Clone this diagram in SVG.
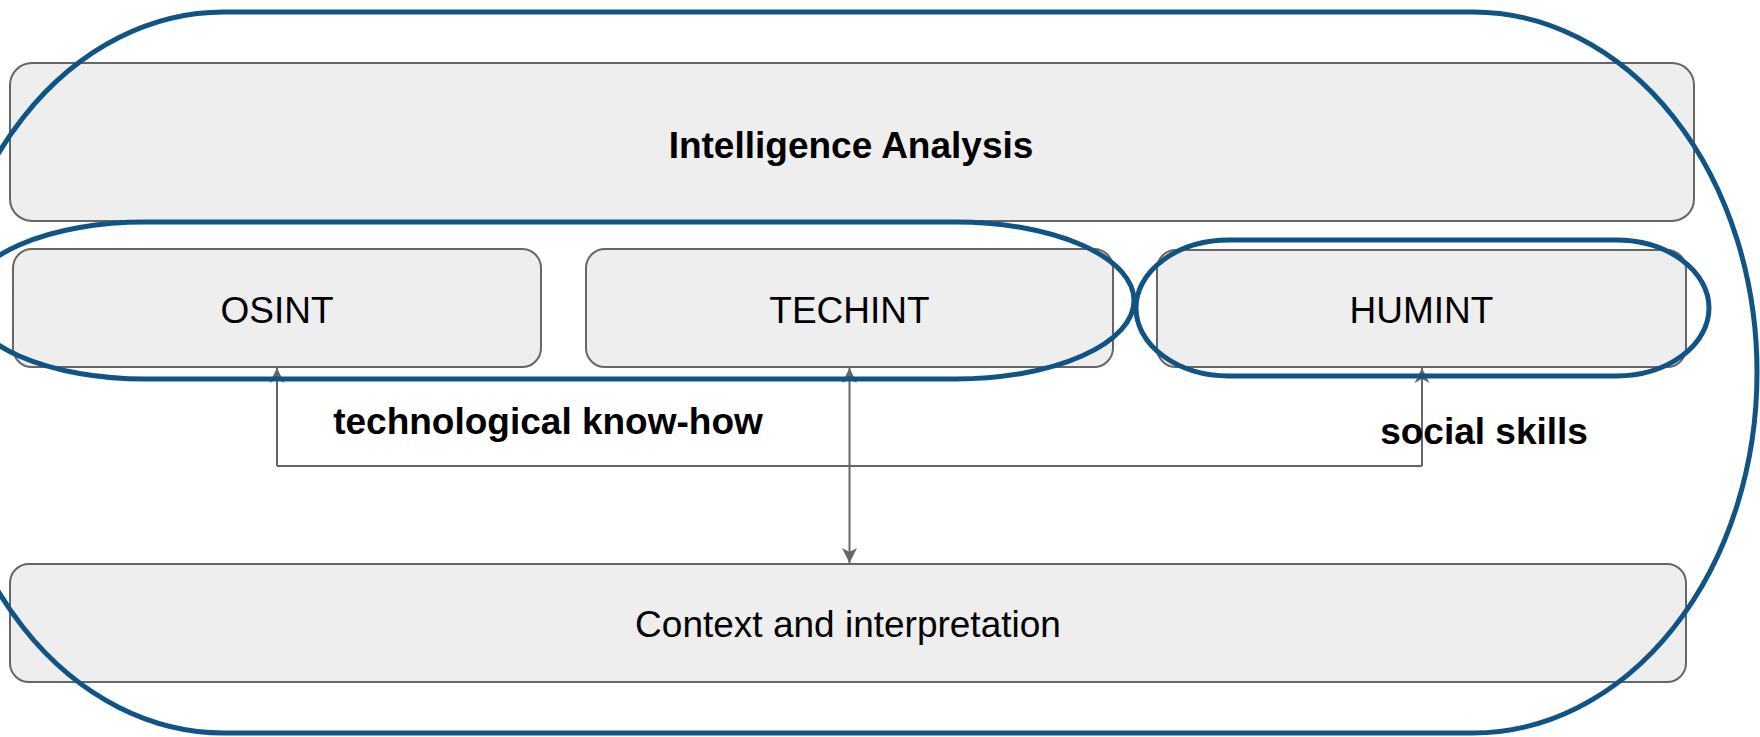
<svg xmlns="http://www.w3.org/2000/svg" width="1760" height="737" viewBox="0 0 1760 737">
  <style>
    .box { fill: #eeeeee; stroke: #666666; stroke-width: 2; }
    .label { font-family: "Liberation Sans", Arial, sans-serif; font-size: 37px; fill: #000000; text-anchor: middle; }
    .bold { font-weight: bold; }
    .edge { fill: none; stroke: #666666; stroke-width: 2; }
    .ring { fill: none; stroke: #0f5485; stroke-width: 5; }
  </style>
  <defs>
    <marker id="arrow" viewBox="0 0 16 16" refX="15" refY="8" markerWidth="16" markerHeight="16" markerUnits="userSpaceOnUse" orient="auto">
      <path d="M15,8 L0,0.5 L4,8 L0,15.5 Z" fill="#666666"/>
    </marker>
  </defs>

  <rect width="1760" height="737" fill="#ffffff"/>

  <g id="intelligence-analysis">
    <rect class="box" x="10" y="63" width="1684" height="158" rx="22" ry="22"/>
    <text class="label bold" x="851" y="158">Intelligence Analysis</text>
  </g>

  <g id="osint">
    <rect class="box" x="13" y="249" width="528" height="118" rx="19" ry="19"/>
    <text class="label" x="277" y="323">OSINT</text>
  </g>

  <g id="techint">
    <rect class="box" x="586" y="249" width="527" height="118" rx="19" ry="19"/>
    <text class="label" x="849.5" y="323">TECHINT</text>
  </g>

  <g id="humint">
    <rect class="box" x="1157" y="250" width="529" height="117" rx="19" ry="19"/>
    <text class="label" x="1421.5" y="323">HUMINT</text>
  </g>

  <g id="context">
    <rect class="box" x="10" y="564" width="1676" height="118" rx="19" ry="19"/>
    <text class="label" x="848" y="637">Context and interpretation</text>
  </g>

  <g id="connectors">
    <path class="edge" d="M277,466 H1422"/>
    <path class="edge" d="M277,466 V368" marker-end="url(#arrow)"/>
    <path class="edge" d="M849.5,466 V368" marker-end="url(#arrow)"/>
    <path class="edge" d="M1422,466 V368" marker-end="url(#arrow)"/>
    <path class="edge" d="M849.5,466 V563" marker-end="url(#arrow)"/>
    <text class="label bold" x="548" y="434">technological know-how</text>
    <text class="label bold" x="1484" y="444">social skills</text>
  </g>

  <g id="groupings">
    <rect class="ring" x="-60" y="12" width="1817" height="721" rx="284" ry="360"/>
    <rect class="ring" x="-33" y="222" width="1167" height="157" rx="178" ry="78.5"/>
    <rect class="ring" x="1136" y="240" width="573" height="136" rx="93" ry="68"/>
  </g>
</svg>
